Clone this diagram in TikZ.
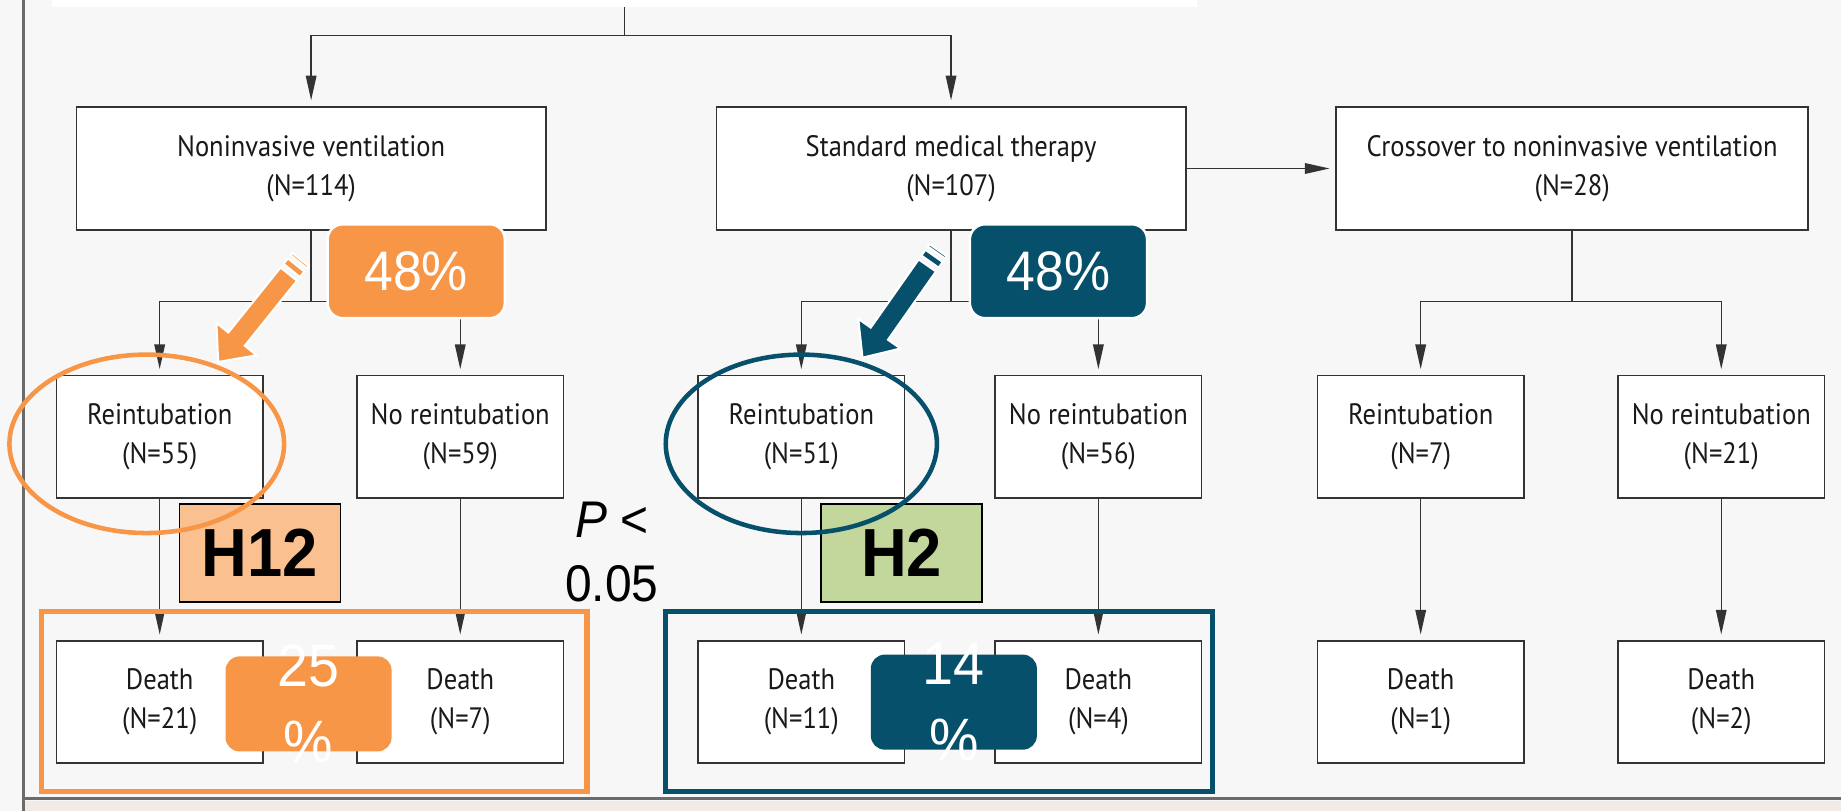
\documentclass[tikz,border=0pt]{standalone}
\usepackage{fontspec}
\usetikzlibrary{arrows.meta}

\newfontfamily\boxfont[FakeStretch=0.9]{PT Sans}
\newfontfamily\ovfont[FakeStretch=0.93]{Liberation Sans}

\definecolor{linecol}{HTML}{333333}
\definecolor{bgcol}{HTML}{F7F7F7}
\definecolor{framecol}{HTML}{6B6B6B}
\definecolor{beige}{HTML}{F2EBE5}
\definecolor{nivorange}{HTML}{F79646}
\definecolor{nivlight}{HTML}{FAC090}
\definecolor{smtteal}{HTML}{07506B}
\definecolor{smtgreen}{HTML}{C3D69B}

% pencil-shaped pointer: colour, tail x, tail y, angle
\newcommand{\pencilmark}[4]{%
  \begin{scope}[shift={(#2,#3)}, rotate=#4]
    \filldraw[fill=#1, draw=white, line width=1pt] (0,-9) rectangle (2.5,9);
    \filldraw[fill=#1, draw=white, line width=1pt] (6,-9) rectangle (12,9);
    \filldraw[fill=#1, draw=white, line width=1pt]
      (16,-9) -- (87,-9) -- (87,-22) -- (112,0) -- (87,22) -- (87,9) -- (16,9) -- cycle;
  \end{scope}}

\begin{document}
\begin{tikzpicture}[
    x=0.02cm, y=-0.02cm,
    box/.style      = {draw=linecol, fill=white, line width=0.7pt, align=center, inner sep=0pt,
                       text=black!90, font=\boxfont\fontsize{14.3}{18.8}\selectfont},
    armbox/.style   = {box, minimum width=8cm, minimum height=2.1cm},
    smallbox/.style = {box, minimum width=3.52cm, minimum height=2.08cm},
    conn/.style     = {draw=linecol, line width=0.7pt},
    arr/.style      = {conn, -{Triangle[length=0.42cm, width=0.18cm]}, shorten >=0.1cm},
    share/.style    = {rounded corners=0.26cm, draw=white, line width=1.2pt, minimum width=3.02cm,
                       minimum height=1.6cm, inner sep=0pt, text=white,
                       font=\ovfont\fontsize{27}{32}\selectfont},
    rate/.style     = {rounded corners=0.24cm, minimum width=2.83cm, minimum height=1.62cm, inner sep=0pt},
    ratetxt/.style  = {align=center, inner sep=0pt, text=white, font=\ovfont\fontsize{29}{37}\selectfont},
    hyp/.style      = {draw=black, line width=0.8pt, minimum width=2.74cm, minimum height=1.68cm,
                       inner sep=0pt, font=\ovfont\bfseries\fontsize{33}{38}\selectfont},
    hilite/.style   = {line width=2.5pt},
    ring/.style     = {line width=2.2pt},
]

\useasboundingbox (0,0) rectangle (1568,691);

%% ---- Slide background and frame ----

\fill[bgcol] (0,0) rectangle (1568,691);
\fill[beige] (21,682) rectangle (1568,691);
\draw[framecol, line width=1.8pt] (20,680) -- (1568,680);
\draw[framecol, line width=1.5pt] (20,0) -- (20,691);

%% ---- Flow chart boxes ----

\node[fill=white, minimum width=19.52cm, minimum height=0.12cm, inner sep=0pt] (trial) at (532,3) {};

\node[armbox] (niv) at (265,143.5) {Noninvasive ventilation\\(N=114)};
\node[armbox] (smt) at (810,143.5) {Standard medical therapy\\(N=107)};
\node[armbox, minimum width=8.04cm] (cross) at (1339,143.5) {Crossover to noninvasive ventilation\\(N=28)};

\foreach \i/\x/\t/\k in {1/136/Reintubation/55, 2/392/No reintubation/59,
                         3/682.5/Reintubation/51, 4/935.5/No reintubation/56,
                         5/1210/Reintubation/7, 6/1466/No reintubation/21}{
    \node[smallbox] (R\i) at (\x,372) {\t\\(N=\k)};
}
\foreach \i/\x/\k in {1/136/21, 2/392/7, 3/682.5/11, 4/935.5/4, 5/1210/1, 6/1466/2}{
    \node[smallbox] (D\i) at (\x,598) {Death\\(N=\k)};
}

%% ---- Connectors ----

\draw[conn] (trial.south) -- (trial.south |- 0,30) coordinate (fork);
\draw[arr] (fork) -| (niv.north);
\draw[arr] (fork) -| (smt.north);
\draw[arr] (smt.east) -- (cross.west);

\foreach \p/\a/\b in {niv/1/2, smt/3/4, cross/5/6}{
    \draw[conn] (\p.south) -- (\p.south |- 0,257) coordinate (\p-fork);
    \draw[arr] (\p-fork) -| (R\a.north);
    \draw[arr] (\p-fork) -| (R\b.north);
}
\foreach \i in {1,...,6}{ \draw[arr] (R\i) -- (D\i); }

%% ---- Highlights ----

\node[share, fill=nivorange] (niv-share) at (354.5,231) {48\%};
\node[share, fill=smtteal]   (smt-share) at (901.5,231) {48\%};

\pencilmark{nivorange}{256}{221}{231.2}
\pencilmark{smtteal}{799}{213}{234.9}

\node[hyp, fill=nivlight] (h12) at (221.5,471) {H12};
\node[hyp, fill=smtgreen] (h2)  at (768,471)   {H2};

\draw[nivorange, ring] (125,378)   ellipse [x radius=2.34cm, y radius=1.52cm];
\draw[smtteal, ring]   (682.5,378) ellipse [x radius=2.31cm, y radius=1.52cm];

\node[font=\ovfont\fontsize{25}{31}\selectfont, align=center, inner sep=0pt] (pval) at (521,470)
    {\textit{P} <\\0.05};

\draw[nivorange, hilite] (35,520.5) rectangle (500,674);
\draw[smtteal, hilite]   (566.6,520.5) rectangle (1033,674);

\node[rate, fill=nivorange] (niv-rate) at (262.8,599.5) {};
\node[ratetxt] (niv-ratetxt) at (niv-rate.center) {25\\\%};
\node[rate, fill=smtteal] (smt-rate) at (812.4,598) {};
\node[ratetxt] (smt-ratetxt) at (smt-rate.center) {14\\\%};

\end{tikzpicture}
\end{document}
